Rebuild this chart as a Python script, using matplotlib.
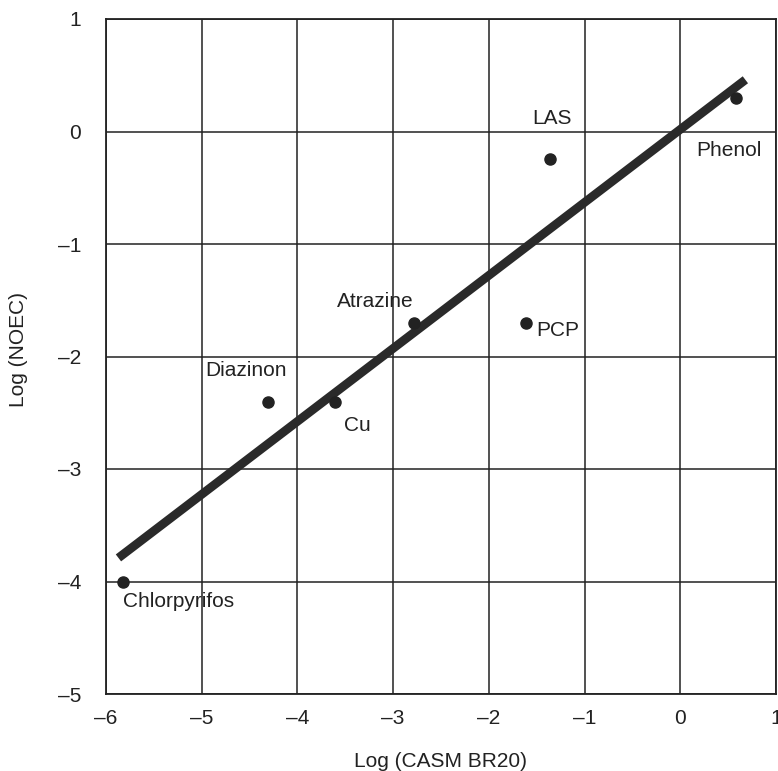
import matplotlib.pyplot as plt
import numpy as np

# data
names = ['Chlorpyrifos', 'Diazinon', 'Cu', 'Atrazine', 'PCP', 'LAS', 'Phenol']
log_casm = [-5.82, -4.31, -3.61, -2.78, -1.61, -1.36, 0.58]
log_noec = [-4.0, -2.4, -2.4, -1.7, -1.7, -0.24, 0.30]

# label offsets in points (dx, dy, ha)
label_pos = {
    'Chlorpyrifos': (0, -14.4, 'left'),
    'Diazinon': (-15.8, 22.3, 'center'),
    'Cu': (16.6, -17.3, 'center'),
    'Atrazine': (-28, 15, 'center'),
    'PCP': (7.2, -5.8, 'left'),
    'LAS': (1.4, 28.8, 'center'),
    'Phenol': (-28.8, -38.2, 'left'),
}

plt.rcParams['font.family'] = ['Liberation Sans', 'DejaVu Sans']
fs = 15

fig = plt.figure(figsize=(7.78, 7.71), dpi=100)
ax = fig.add_axes([106 / 778, 77 / 771, 670 / 778, 675 / 771])

ax.set_xlim(-6, 1)
ax.set_ylim(-5, 1)
ax.set_xticks(range(-6, 2))
ax.set_yticks(range(-5, 2))
ax.set_xticklabels(['\u2013%d' % -t if t < 0 else str(t) for t in range(-6, 2)])
ax.set_yticklabels(['\u2013%d' % -t if t < 0 else str(t) for t in range(-5, 2)])
ax.tick_params(length=0, labelsize=fs, colors='#222222')
ax.tick_params(axis='x', pad=11)
ax.tick_params(axis='y', pad=18)
ax.grid(True, color='#222222', linewidth=1.1)
ax.set_axisbelow(True)
for s in ax.spines.values():
    s.set_color('#222222')
    s.set_linewidth(1.3)

# regression line
slope, intercept = np.polyfit(log_casm, log_noec, 1)
xl = np.array([min(log_casm) - 0.05, max(log_casm) + 0.1])
ax.plot(xl, slope * xl + intercept, color='#2a2a2a', linewidth=6.3, solid_capstyle='butt', zorder=3)

ax.plot(log_casm, log_noec, 'o', color='#222222', markersize=8, zorder=4)

for n, x, y in zip(names, log_casm, log_noec):
    dx, dy, ha = label_pos[n]
    ax.annotate(n, (x, y), xytext=(dx, dy), textcoords='offset points',
                ha=ha, va='center', fontsize=fs, color='#222222')

ax.set_xlabel('Log (CASM BR20)', fontsize=fs, color='#222222')
ax.set_ylabel('Log (NOEC)', fontsize=fs, color='#222222')
ax.xaxis.set_label_coords(0.5, -0.086)
ax.yaxis.set_label_coords(-0.116, 0.51)

fig.savefig('out.png', dpi=100)
